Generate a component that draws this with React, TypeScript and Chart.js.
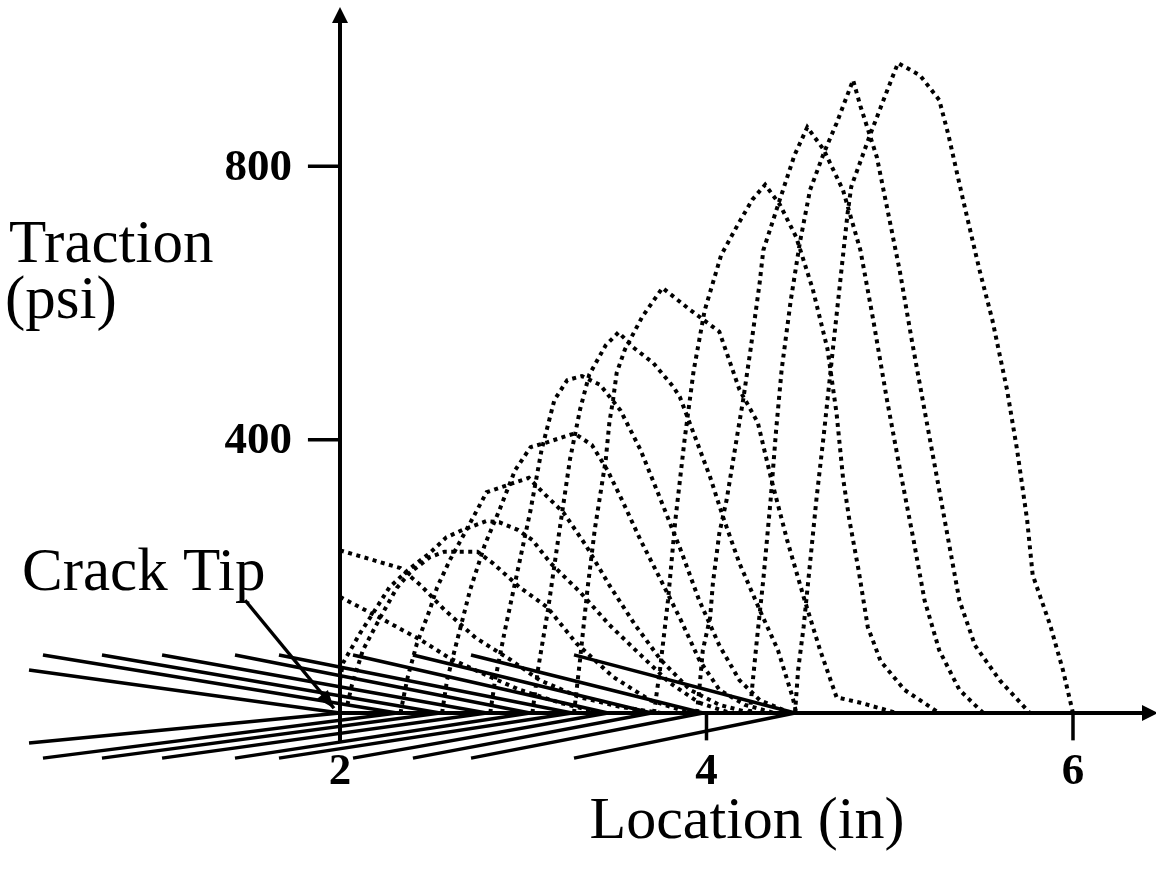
import React, { useEffect, useRef } from "react";
import { Chart, registerables } from "chart.js";

Chart.register(...registerables);

// ---- axis ticks ----
const xTicks = [2, 4, 6];
const yTicks = [400, 800];

// ---- crack geometry (location in, "height" in traction units) ----
const crackTips = [2.0, 2.311, 2.546, 2.8, 3.037, 3.266, 3.462, 3.7, 3.981, 4.483];
const crackStarts = [0.303, 0.379, 0.701, 1.029, 1.427, 1.667, 2.071, 2.398, 2.715, 3.277];
const crackUpper = [63, 85, 85, 85, 85, 85, 85, 85, 85, 85];
const crackLower = [-44, -66, -66, -66, -66, -66, -66, -66, -66, -66];

// ---- traction profiles [location, traction] ----
const tractionA = [[2.0, 238], [2.33, 212], [2.44, 187], [2.57, 151], [2.74, 110], [2.93, 78], [3.09, 48], [3.31, 23], [3.53, 9], [3.75, 0]];
const tractionB = [[2.0, 170], [2.22, 139], [2.44, 107], [2.6, 80], [2.76, 60], [2.98, 34], [3.2, 15], [3.42, 0]];
const tractionC = [[2.04, 12], [2.065, 41], [2.125, 92], [2.22, 140], [2.31, 183], [2.38, 205], [2.49, 228], [2.57, 236], [2.75, 236], [2.835, 219], [2.98, 184], [3.13, 155], [3.29, 102], [3.49, 53], [3.69, 19], [3.91, 0]];
const tractionD = [[2.0, 48], [2.016, 73], [2.11, 117], [2.18, 146], [2.27, 184], [2.37, 209], [2.49, 234], [2.58, 257], [2.67, 268], [2.8, 281], [2.87, 279], [2.97, 268], [3.05, 253], [3.15, 219], [3.31, 177], [3.47, 129], [3.64, 85], [3.8, 44], [3.96, 15], [4.13, 0]];
const tractionE = [[2.33, 0], [2.355, 34], [2.37, 53], [2.42, 102], [2.49, 151], [2.53, 184], [2.6, 224], [2.69, 268], [2.8, 323], [2.94, 336], [3.03, 344], [3.11, 322], [3.22, 293], [3.34, 246], [3.47, 187], [3.61, 129], [3.75, 78], [3.91, 34], [4.07, 12], [4.24, 0]];
const tractionF = [[2.557, 0], [2.584, 48], [2.64, 107], [2.71, 180], [2.79, 246], [2.87, 297], [2.955, 355], [3.04, 389], [3.13, 396], [3.22, 404], [3.28, 409], [3.375, 392], [3.46, 355], [3.54, 311], [3.64, 253], [3.75, 195], [3.86, 136], [3.96, 78], [4.07, 34], [4.21, 12], [4.37, 0]];
const tractionG = [[2.82, 0], [2.846, 48], [2.9, 121], [2.97, 209], [3.04, 297], [3.1, 385], [3.17, 458], [3.24, 487], [3.32, 493], [3.42, 480], [3.53, 443], [3.64, 385], [3.75, 312], [3.86, 238], [3.96, 165], [4.07, 99], [4.18, 48], [4.29, 19], [4.46, 0]];
const tractionH = [[3.05, 0], [3.08, 63], [3.135, 151], [3.19, 253], [3.255, 371], [3.31, 444], [3.36, 495], [3.45, 538], [3.52, 557], [3.6, 535], [3.71, 512], [3.82, 477], [3.855, 462], [3.95, 395], [4.02, 345], [4.09, 287], [4.18, 219], [4.29, 151], [4.39, 92], [4.47, 23], [4.49, 0]];
const tractionI = [[3.277, 0], [3.31, 78], [3.35, 180], [3.39, 268], [3.43, 336], [3.45, 370], [3.47, 425], [3.49, 458], [3.51, 498], [3.555, 532], [3.65, 580], [3.76, 622], [3.91, 590], [4.035, 565], [4.07, 558], [4.18, 473], [4.28, 425], [4.35, 346], [4.44, 253], [4.53, 170], [4.62, 92], [4.71, 23], [4.84, 15], [5.04, 0]];
const tractionJ = [[3.713, 0], [3.746, 63], [3.79, 165], [3.83, 282], [3.88, 399], [3.93, 501], [3.99, 589], [4.08, 670], [4.17, 714], [4.25, 751], [4.32, 773], [4.4, 744], [4.49, 696], [4.58, 620], [4.66, 533], [4.71, 438], [4.745, 344], [4.78, 282], [4.83, 209], [4.88, 126], [4.95, 76], [5.08, 34], [5.27, 0]];
const tractionK = [[3.948, 0], [3.964, 44], [3.98, 92], [4.02, 140], [4.035, 190], [4.07, 263], [4.11, 312], [4.17, 410], [4.2, 458], [4.24, 531], [4.29, 629], [4.31, 677], [4.4, 751], [4.48, 816], [4.55, 857], [4.64, 824], [4.745, 765], [4.84, 677], [4.91, 575], [4.985, 458], [5.056, 356], [5.13, 253], [5.19, 165], [5.27, 92], [5.38, 34], [5.51, 0]];
const tractionL = [[4.237, 0], [4.248, 34], [4.275, 107], [4.31, 195], [4.35, 312], [4.38, 414], [4.41, 502], [4.46, 604], [4.51, 689], [4.565, 765], [4.64, 819], [4.71, 863], [4.8, 926], [4.84, 888], [4.93, 813], [5.0, 720], [5.056, 645], [5.12, 546], [5.19, 443], [5.26, 341], [5.33, 238], [5.38, 165], [5.465, 99], [5.6, 48], [5.765, 0]];
const tractionM = [[4.483, 0], [4.5, 63], [4.53, 126], [4.565, 219], [4.6, 313], [4.64, 407], [4.69, 533], [4.74, 657], [4.77, 731], [4.79, 770], [4.89, 844], [4.985, 910], [5.045, 951], [5.165, 933], [5.27, 897], [5.32, 846], [5.4, 751], [5.49, 648], [5.56, 575], [5.64, 473], [5.695, 385], [5.75, 282], [5.78, 202], [5.875, 129], [5.945, 63], [6.0, 0]];
const tractionProfiles = [tractionA, tractionB, tractionC, tractionD, tractionE, tractionF, tractionG, tractionH, tractionI, tractionJ, tractionK, tractionL, tractionM];

// ---- annotation ----
const crackTipArrow = [[1.482, 165], [1.967, 7]];

// ---- ranges ----
const X_MIN = 0.1446;
const X_MAX = 6.453;
const Y_MIN = -228.2;
const Y_MAX = 1043.2;
const AXIS_X_AT = 2;
const Y_AXIS_TOP = 1033;
const Y_AXIS_BOTTOM = -42;
const X_TICK_BOTTOM = -40;
const Y_TICK_LEFT = 1.825;

const SERIF = "'Liberation Serif', 'DejaVu Serif', serif";

const overlayPlugin = {
  id: "overlay",
  beforeDatasetsDraw(chart: any) {
    const { ctx, scales } = chart;
    const x = scales.x;
    const y = scales.y;
    const ax = x.getPixelForValue(AXIS_X_AT);
    const ay = y.getPixelForValue(0);
    ctx.save();
    ctx.strokeStyle = "#000";
    ctx.fillStyle = "#000";
    ctx.lineWidth = 4;
    ctx.setLineDash([]);
    // y axis
    const yTop = y.getPixelForValue(Y_AXIS_TOP);
    ctx.beginPath();
    ctx.moveTo(ax, y.getPixelForValue(Y_AXIS_BOTTOM));
    ctx.lineTo(ax, yTop + 14);
    ctx.stroke();
    ctx.beginPath();
    ctx.moveTo(ax, yTop);
    ctx.lineTo(ax - 8, yTop + 16);
    ctx.lineTo(ax + 8, yTop + 16);
    ctx.closePath();
    ctx.fill();
    // x axis
    const xRight = x.getPixelForValue(X_MAX);
    ctx.beginPath();
    ctx.moveTo(ax, ay);
    ctx.lineTo(xRight - 12, ay);
    ctx.stroke();
    ctx.beginPath();
    ctx.moveTo(xRight + 2, ay);
    ctx.lineTo(xRight - 14, ay - 8);
    ctx.lineTo(xRight - 14, ay + 8);
    ctx.closePath();
    ctx.fill();
    // ticks
    ctx.lineWidth = 3.5;
    xTicks.forEach((t) => {
      const px = x.getPixelForValue(t);
      ctx.beginPath();
      ctx.moveTo(px, ay);
      ctx.lineTo(px, y.getPixelForValue(X_TICK_BOTTOM));
      ctx.stroke();
    });
    yTicks.forEach((t) => {
      const py = y.getPixelForValue(t);
      ctx.beginPath();
      ctx.moveTo(ax, py);
      ctx.lineTo(x.getPixelForValue(Y_TICK_LEFT), py);
      ctx.stroke();
    });
    // tick labels
    ctx.font = `bold 45px ${SERIF}`;
    ctx.textAlign = "center";
    ctx.textBaseline = "alphabetic";
    xTicks.forEach((t) => {
      ctx.fillText(String(t), x.getPixelForValue(t), ay + 71);
    });
    ctx.textAlign = "right";
    ctx.textBaseline = "middle";
    yTicks.forEach((t) => {
      ctx.fillText(String(t), ax - 48, y.getPixelForValue(t) + 2);
    });
    ctx.restore();
  },
  afterDatasetsDraw(chart: any) {
    const { ctx, scales } = chart;
    const x = scales.x;
    const y = scales.y;
    ctx.save();
    ctx.fillStyle = "#000";
    // arrow head for crack tip
    const [p0, p1] = crackTipArrow;
    const x0 = x.getPixelForValue(p0[0]);
    const y0 = y.getPixelForValue(p0[1]);
    const x1 = x.getPixelForValue(p1[0]);
    const y1 = y.getPixelForValue(p1[1]);
    const ang = Math.atan2(y1 - y0, x1 - x0);
    const L = 18;
    const W = 7;
    ctx.beginPath();
    ctx.moveTo(x1, y1);
    ctx.lineTo(x1 - L * Math.cos(ang) + W * Math.sin(ang), y1 - L * Math.sin(ang) - W * Math.cos(ang));
    ctx.lineTo(x1 - L * Math.cos(ang) - W * Math.sin(ang), y1 - L * Math.sin(ang) + W * Math.cos(ang));
    ctx.closePath();
    ctx.fill();
    // texts
    ctx.font = `61px ${SERIF}`;
    ctx.textAlign = "left";
    ctx.textBaseline = "alphabetic";
    ctx.fillText("Traction", 9, 262);
    ctx.fillText("(psi)", 5, 318);
    ctx.fillText("Crack Tip", 22, 590);
    ctx.font = `60px ${SERIF}`;
    ctx.textAlign = "center";
    ctx.fillText("Location (in)", 747, 838);
    ctx.restore();
  },
};

export default function App() {
  const ref = useRef<HTMLCanvasElement | null>(null);
  useEffect(() => {
    document.body.style.margin = "0";
    const canvas = ref.current;
    if (!canvas) return;
    const toPts = (arr: number[][]) => arr.map(([a, b]) => ({ x: a, y: b }));
    const datasets: any[] = [];
    crackTips.forEach((tip, i) => {
      const faces = [crackUpper[i], crackLower[i]];
      faces.forEach((h) => {
        datasets.push({
          data: [
            { x: crackStarts[i], y: h },
            { x: tip, y: 0 },
          ],
          borderColor: "#000",
          borderWidth: 3.5,
          showLine: true,
          pointRadius: 0,
          fill: false,
        });
      });
    });
    tractionProfiles.forEach((prof) => {
      datasets.push({
        data: toPts(prof),
        borderColor: "#000",
        borderWidth: 4,
        borderDash: [4, 4.5],
        borderCapStyle: "butt",
        showLine: true,
        pointRadius: 0,
        fill: false,
        tension: 0,
      });
    });
    datasets.push({
      data: toPts(crackTipArrow),
      borderColor: "#000",
      borderWidth: 3.5,
      showLine: true,
      pointRadius: 0,
      fill: false,
    });
    const chart = new Chart(canvas, {
      type: "scatter",
      data: { datasets },
      options: {
        animation: false,
        responsive: false,
        devicePixelRatio: 1,
        layout: { padding: 0 },
        plugins: { legend: { display: false }, tooltip: { enabled: false } },
        events: [],
        scales: {
          x: { type: "linear", min: X_MIN, max: X_MAX, display: false },
          y: { type: "linear", min: Y_MIN, max: Y_MAX, display: false },
        },
      },
      plugins: [overlayPlugin],
    });
    return () => chart.destroy();
  }, []);
  return (
    <div style={{ width: 1156, height: 869 }}>
      <canvas ref={ref} width={1156} height={869} style={{ display: "block" }} />
    </div>
  );
}
